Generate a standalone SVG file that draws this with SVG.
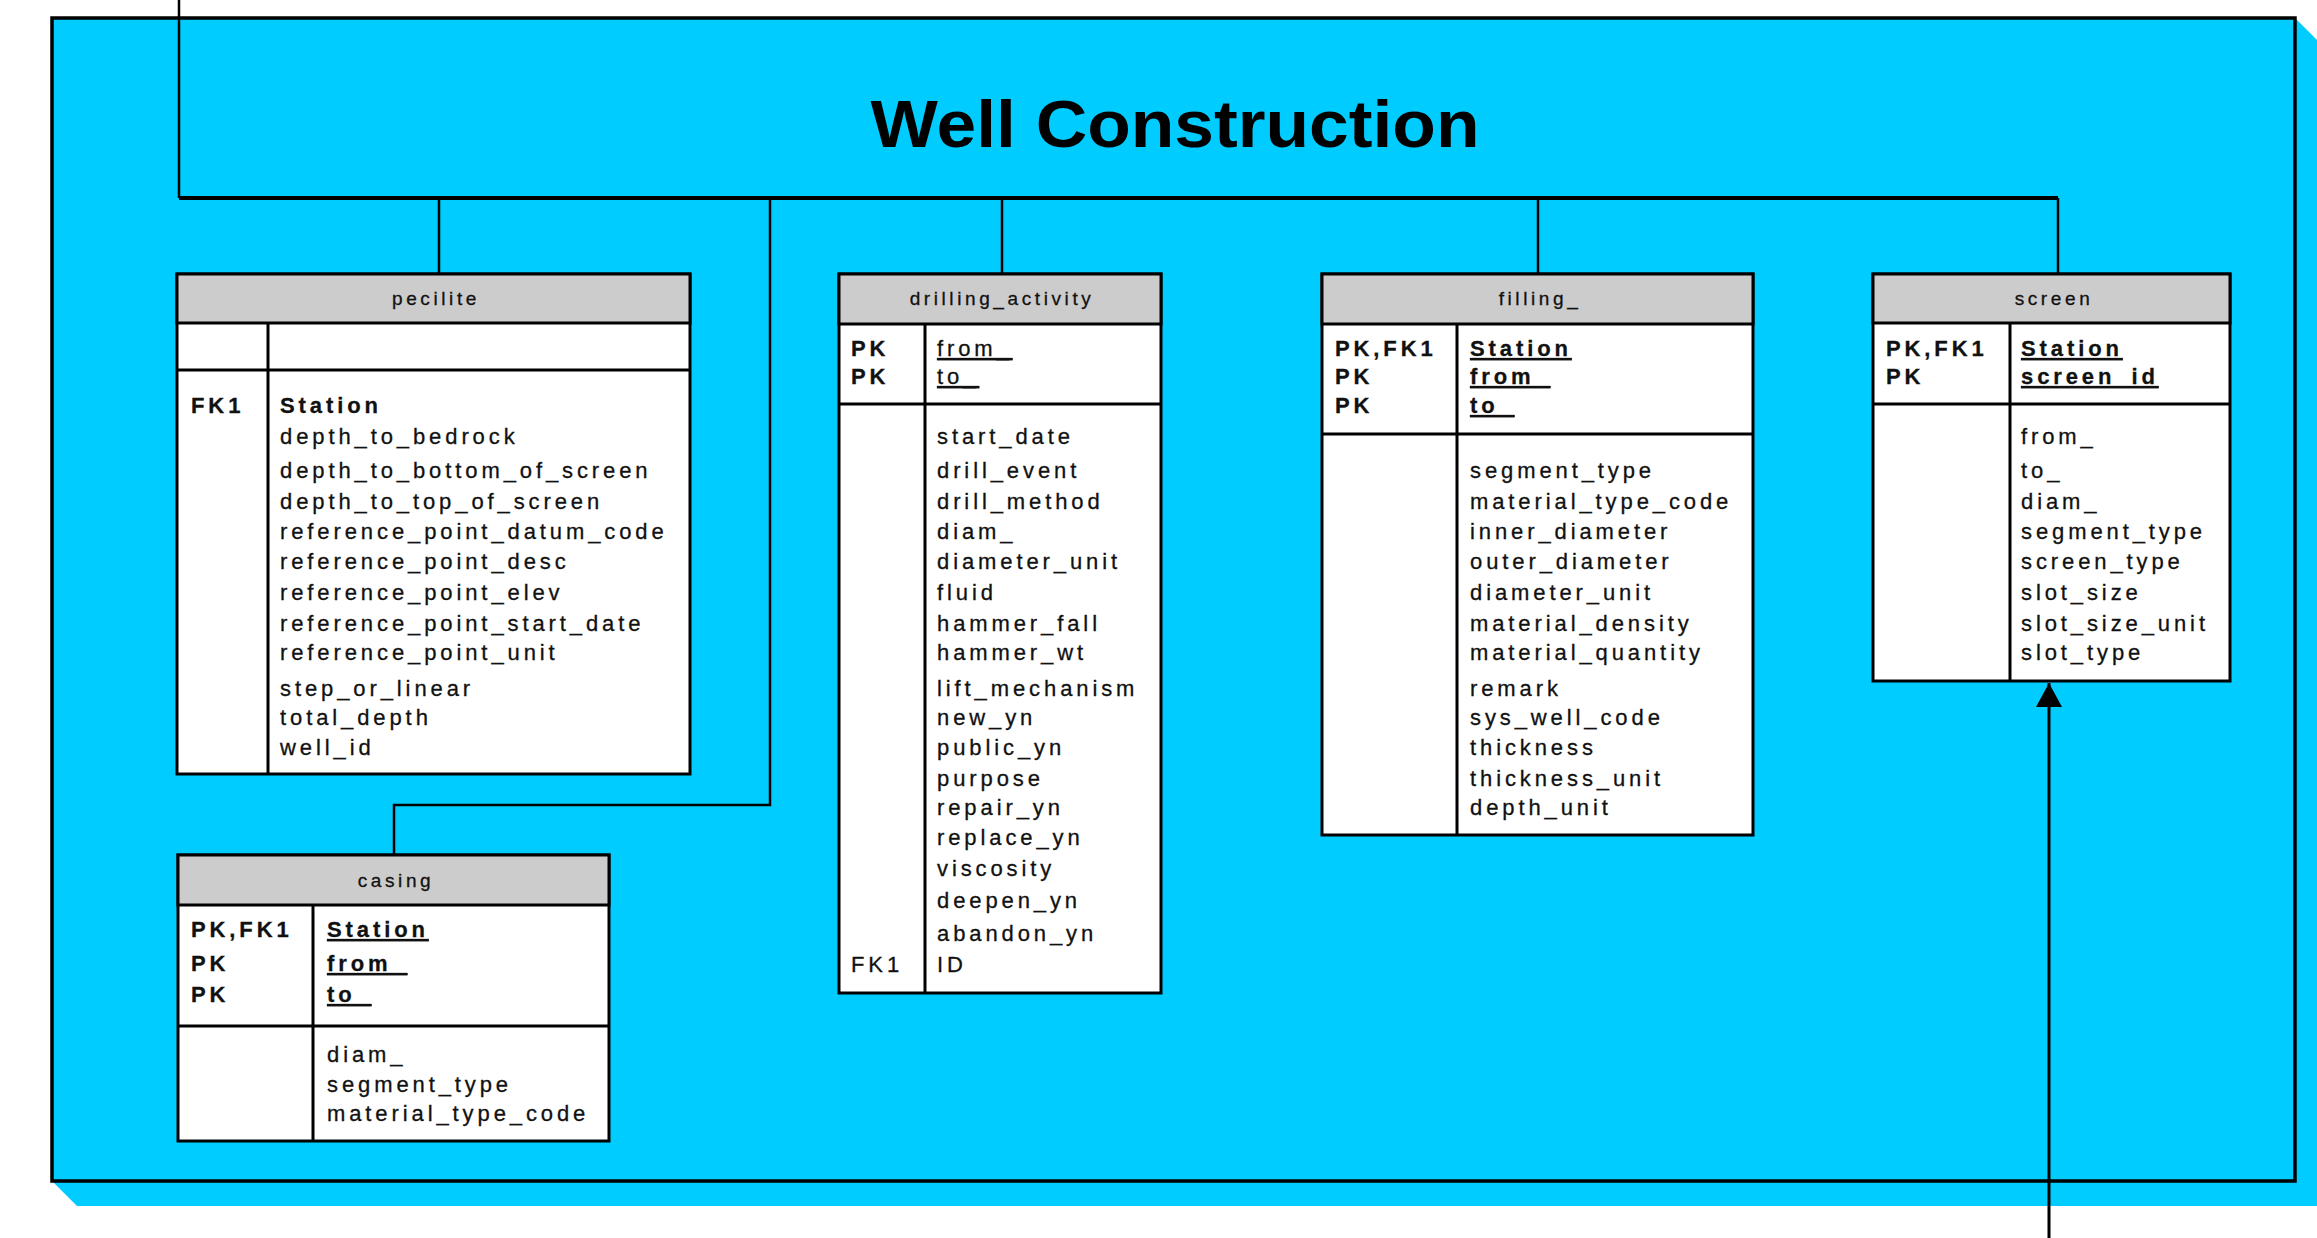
<svg xmlns="http://www.w3.org/2000/svg" width="2317" height="1238" viewBox="0 0 2317 1238">
<defs>
<style>
.t{font-family:"Liberation Sans",Arial,Helvetica,sans-serif;font-size:22px;letter-spacing:3.9px;fill:#111;stroke:#111;stroke-width:0.3px}
.b{font-weight:bold}
.u{text-decoration:underline}
.h{font-family:"Liberation Sans",Arial,Helvetica,sans-serif;font-size:19px;letter-spacing:3.6px;fill:#111;stroke:#111;stroke-width:0.3px;text-anchor:middle}
.box{fill:#fff;stroke:#000;stroke-width:3}
.hdr{fill:#ccc;stroke:#000;stroke-width:3}
.ln{stroke:#000;stroke-width:3;fill:none}
.cn{stroke:#000;stroke-width:2.5;fill:none}
.bus{stroke:#000;stroke-width:4;fill:none}
.title{font-family:"Liberation Sans",Arial,Helvetica,sans-serif;font-size:66px;font-weight:bold;fill:#000;text-anchor:middle}
</style>
<marker id="arr" markerUnits="userSpaceOnUse" markerWidth="26" markerHeight="28" refX="24" refY="13" orient="auto">
<path d="M0,0 L24,13 L0,26 Z" fill="#000"/>
</marker>
</defs>
<rect x="0" y="0" width="2317" height="1238" fill="#fff"/>
<g id="well-construction">
<polygon points="2295,18 2320,43 2320,1206 77,1206 52,1181" fill="#00CCFF"/>
<rect x="52" y="18" width="2243" height="1163" fill="#00CCFF" stroke="#000" stroke-width="3.5"/>
<text class="title" x="1175" y="147" textLength="609" lengthAdjust="spacingAndGlyphs">Well Construction</text>
</g>
<g id="connectors">
<polyline class="cn" points="179,0 179,198"/>
<line class="bus" x1="179" y1="198" x2="2058" y2="198"/>
<line class="cn" x1="439" y1="198" x2="439" y2="274"/>
<polyline class="cn" points="770,198 770,805 394,805 394,855"/>
<line class="cn" x1="1002" y1="198" x2="1002" y2="274"/>
<line class="cn" x1="1538" y1="198" x2="1538" y2="274"/>
<line class="cn" x1="2058" y1="198" x2="2058" y2="274"/>
<line class="ln" x1="2049" y1="1238" x2="2049" y2="683" marker-end="url(#arr)"/>
</g>
<g id="pecilite">
<rect class="box" x="177" y="274" width="513" height="500"/>
<rect class="hdr" x="177" y="274" width="513" height="49"/>
<line class="ln" x1="177" y1="370" x2="690" y2="370"/>
<line class="ln" x1="268" y1="323" x2="268" y2="774"/>
<text class="h" x="436" y="305">pecilite</text>
<text class="t b" x="191" y="413">FK1</text>
<text class="t b" x="280" y="413">Station</text>
<text class="t" x="280" y="444">depth_to_bedrock</text>
<text class="t" x="280" y="478">depth_to_bottom_of_screen</text>
<text class="t" x="280" y="509">depth_to_top_of_screen</text>
<text class="t" x="280" y="539">reference_point_datum_code</text>
<text class="t" x="280" y="569">reference_point_desc</text>
<text class="t" x="280" y="600">reference_point_elev</text>
<text class="t" x="280" y="631">reference_point_start_date</text>
<text class="t" x="280" y="660">reference_point_unit</text>
<text class="t" x="280" y="696">step_or_linear</text>
<text class="t" x="280" y="725">total_depth</text>
<text class="t" x="280" y="755">well_id</text>
</g>
<g id="casing">
<rect class="box" x="178" y="855" width="431" height="286"/>
<rect class="hdr" x="178" y="855" width="431" height="50"/>
<line class="ln" x1="178" y1="1026" x2="609" y2="1026"/>
<line class="ln" x1="313" y1="905" x2="313" y2="1141"/>
<text class="h" x="396" y="887">casing</text>
<text class="t b" x="191" y="937">PK,FK1</text>
<text class="t b" x="191" y="971">PK</text>
<text class="t b" x="191" y="1002">PK</text>
<text class="t b u" x="327" y="937">Station</text>
<text class="t b u" x="327" y="971">from_</text>
<text class="t b u" x="327" y="1002">to_</text>
<text class="t" x="327" y="1062">diam_</text>
<text class="t" x="327" y="1092">segment_type</text>
<text class="t" x="327" y="1121">material_type_code</text>
</g>
<g id="drilling_activity">
<rect class="box" x="839" y="274" width="322" height="719"/>
<rect class="hdr" x="839" y="274" width="322" height="50"/>
<line class="ln" x1="839" y1="404" x2="1161" y2="404"/>
<line class="ln" x1="925" y1="324" x2="925" y2="993"/>
<text class="h" x="1002" y="305">drilling_activity</text>
<text class="t b" x="851" y="356">PK</text>
<text class="t b" x="851" y="384">PK</text>
<text class="t u" x="937" y="356">from_</text>
<text class="t u" x="937" y="384">to_</text>
<text class="t" x="937" y="444">start_date</text>
<text class="t" x="937" y="478">drill_event</text>
<text class="t" x="937" y="509">drill_method</text>
<text class="t" x="937" y="539">diam_</text>
<text class="t" x="937" y="569">diameter_unit</text>
<text class="t" x="937" y="600">fluid</text>
<text class="t" x="937" y="631">hammer_fall</text>
<text class="t" x="937" y="660">hammer_wt</text>
<text class="t" x="937" y="696">lift_mechanism</text>
<text class="t" x="937" y="725">new_yn</text>
<text class="t" x="937" y="755">public_yn</text>
<text class="t" x="937" y="786">purpose</text>
<text class="t" x="937" y="815">repair_yn</text>
<text class="t" x="937" y="845">replace_yn</text>
<text class="t" x="937" y="876">viscosity</text>
<text class="t" x="937" y="908">deepen_yn</text>
<text class="t" x="937" y="941">abandon_yn</text>
<text class="t" x="851" y="972">FK1</text>
<text class="t" x="937" y="972">ID</text>
</g>
<g id="filling_">
<rect class="box" x="1322" y="274" width="431" height="561"/>
<rect class="hdr" x="1322" y="274" width="431" height="50"/>
<line class="ln" x1="1322" y1="434" x2="1753" y2="434"/>
<line class="ln" x1="1457" y1="324" x2="1457" y2="835"/>
<text class="h" x="1540" y="305">filling_</text>
<text class="t b" x="1335" y="356">PK,FK1</text>
<text class="t b" x="1335" y="384">PK</text>
<text class="t b" x="1335" y="413">PK</text>
<text class="t b u" x="1470" y="356">Station</text>
<text class="t b u" x="1470" y="384">from_</text>
<text class="t b u" x="1470" y="413">to_</text>
<text class="t" x="1470" y="478">segment_type</text>
<text class="t" x="1470" y="509">material_type_code</text>
<text class="t" x="1470" y="539">inner_diameter</text>
<text class="t" x="1470" y="569">outer_diameter</text>
<text class="t" x="1470" y="600">diameter_unit</text>
<text class="t" x="1470" y="631">material_density</text>
<text class="t" x="1470" y="660">material_quantity</text>
<text class="t" x="1470" y="696">remark</text>
<text class="t" x="1470" y="725">sys_well_code</text>
<text class="t" x="1470" y="755">thickness</text>
<text class="t" x="1470" y="786">thickness_unit</text>
<text class="t" x="1470" y="815">depth_unit</text>
</g>
<g id="screen">
<rect class="box" x="1873" y="274" width="357" height="407"/>
<rect class="hdr" x="1873" y="274" width="357" height="49"/>
<line class="ln" x1="1873" y1="404" x2="2230" y2="404"/>
<line class="ln" x1="2010" y1="323" x2="2010" y2="681"/>
<text class="h" x="2054" y="305">screen</text>
<text class="t b" x="1886" y="356">PK,FK1</text>
<text class="t b" x="1886" y="384">PK</text>
<text class="t b u" x="2021" y="356">Station</text>
<text class="t b u" x="2021" y="384">screen_id</text>
<text class="t" x="2021" y="444">from_</text>
<text class="t" x="2021" y="478">to_</text>
<text class="t" x="2021" y="509">diam_</text>
<text class="t" x="2021" y="539">segment_type</text>
<text class="t" x="2021" y="569">screen_type</text>
<text class="t" x="2021" y="600">slot_size</text>
<text class="t" x="2021" y="631">slot_size_unit</text>
<text class="t" x="2021" y="660">slot_type</text>
</g>
</svg>
